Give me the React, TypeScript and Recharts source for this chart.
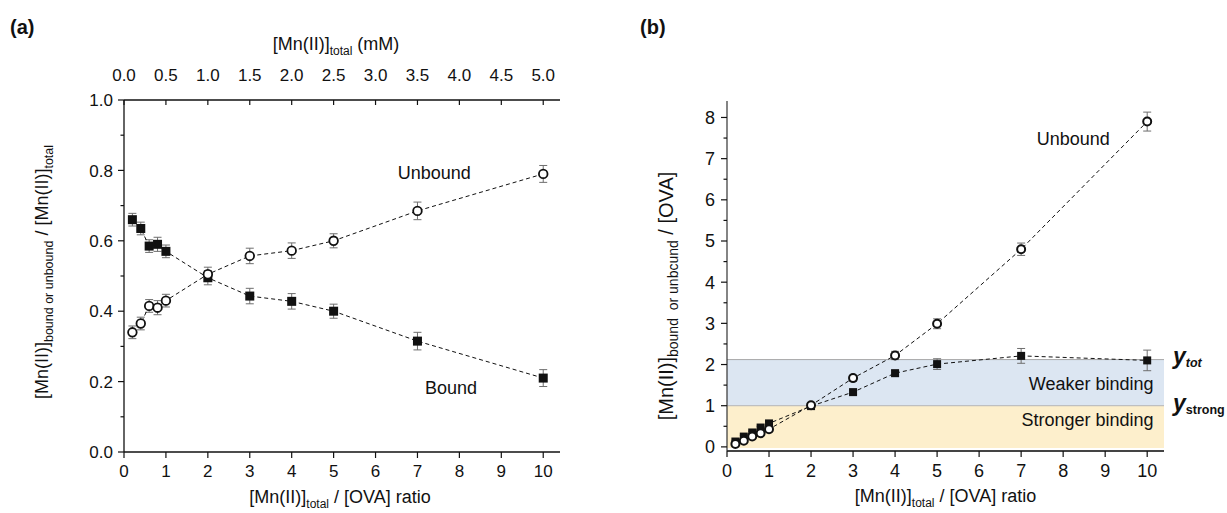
import { ComposedChart, Line, XAxis, YAxis, ErrorBar, ReferenceArea, ReferenceLine, ReferenceDot } from 'recharts';

// [Mn(II)]total / [OVA] ratio
const ratio = [0.2, 0.4, 0.6, 0.8, 1, 2, 3, 4, 5, 7, 10];

// panel (a): fraction of total Mn(II)
const boundFrac = [0.66, 0.635, 0.585, 0.59, 0.57, 0.495, 0.443, 0.428, 0.4, 0.315, 0.21];
const unboundFrac = [0.34, 0.365, 0.415, 0.41, 0.43, 0.505, 0.557, 0.572, 0.6, 0.685, 0.79];
const fracErr = [0.018, 0.018, 0.018, 0.02, 0.018, 0.02, 0.022, 0.022, 0.02, 0.025, 0.024];

// panel (b): per OVA
const boundPerOva = [0.13, 0.25, 0.35, 0.47, 0.57, 0.99, 1.33, 1.79, 2.01, 2.21, 2.1];
const unboundPerOva = [0.07, 0.15, 0.25, 0.33, 0.43, 1.01, 1.67, 2.22, 2.99, 4.8, 7.9];
const boundErr = [0.03, 0.03, 0.03, 0.03, 0.04, 0.05, 0.05, 0.07, 0.13, 0.18, 0.25];
const unboundErr = [0.03, 0.03, 0.03, 0.03, 0.04, 0.05, 0.07, 0.1, 0.12, 0.15, 0.23];

const yTot = 2.12;
const yStrong = 1;

const ratioTicks = [0, 1, 2, 3, 4, 5, 6, 7, 8, 9, 10];
// top axis: 1 mM per 2 ratio units
const mMLabels = ['0.0', '0.5', '1.0', '1.5', '2.0', '2.5', '3.0', '3.5', '4.0', '4.5', '5.0'];
const fracTicks = [0, 0.1, 0.2, 0.3, 0.4, 0.5, 0.6, 0.7, 0.8, 0.9, 1];
const perOvaTicks = [0, 0.5, 1, 1.5, 2, 2.5, 3, 3.5, 4, 4.5, 5, 5.5, 6, 6.5, 7, 7.5, 8];

const dataA = ratio.map((r, i) => ({ ratio: r, bound: boundFrac[i], unbound: unboundFrac[i], err: fracErr[i] }));
const dataB = ratio.map((r, i) => ({
  ratio: r,
  bound: boundPerOva[i],
  unbound: unboundPerOva[i],
  bErr: boundErr[i],
  uErr: unboundErr[i],
}));

const INK = '#111';
const ERR = '#6e6e6e';
const FONT = '"Liberation Sans", Arial, sans-serif';

const isMajor = (v: number, step: number) => Math.abs(v / step - Math.round(v / step)) < 1e-6;

const LeftTick = (p: any) => {
  const { x, y, payload, step, fmt, size, gap } = p;
  const major = isMajor(payload.value, step);
  return (
    <g>
      <line x1={x - (major ? 6 : 3.5)} x2={x} y1={y} y2={y} stroke={INK} strokeWidth={1.2} />
      {major && (
        <text x={x - gap} y={y} dy="0.36em" textAnchor="end" fontSize={size} fill={INK}>
          {fmt(payload.value)}
        </text>
      )}
    </g>
  );
};

const BottomTick = (p: any) => {
  const { x, y, payload, size, gap } = p;
  return (
    <g>
      <line x1={x} x2={x} y1={y} y2={y + 6} stroke={INK} strokeWidth={1.2} />
      <text x={x} y={y + gap} dy="0.8em" textAnchor="middle" fontSize={size} fill={INK}>
        {payload.value}
      </text>
    </g>
  );
};

// top ticks point into the plot
const TopTick = (p: any) => {
  const { x, y, payload, index } = p;
  return (
    <g>
      <line x1={x} x2={x} y1={y} y2={y + 5} stroke={INK} strokeWidth={1.2} />
      <text x={x} y={y - 19} textAnchor="middle" fontSize={17} fill={INK}>
        {mMLabels[index] ?? String(payload.value / 2)}
      </text>
    </g>
  );
};

const Square = (size: number) => (p: any) => {
  if (p.cx == null || p.cy == null) return <g key={p.key} />;
  return <rect key={p.key} x={p.cx - size / 2} y={p.cy - size / 2} width={size} height={size} fill={INK} />;
};

const Ring = (r: number, w: number) => (p: any) => {
  if (p.cx == null || p.cy == null) return <g key={p.key} />;
  return <circle key={p.key} cx={p.cx} cy={p.cy} r={r} fill="#fff" stroke={INK} strokeWidth={w} />;
};

const Mn = ({ sub, size, subSize }: { sub: string; size: number; subSize: number }) => (
  <>
    <tspan fontSize={size}>[Mn(II)]</tspan>
    <tspan fontSize={subSize} dy={size * 0.28}>{sub}</tspan>
    <tspan fontSize={size} dy={-size * 0.28}>{'\u00a0'}</tspan>
  </>
);

const ratioTitle = (dy: number, shift: number) => (p: any) => {
  const { x, y, width } = p.viewBox;
  return (
    <text x={x + width / 2 + shift} y={y + dy} textAnchor="middle" fill={INK}>
      <Mn sub="total" size={18} subSize={12} />
      <tspan fontSize={18}>/ [OVA] ratio</tspan>
    </text>
  );
};

const mMTitle = (p: any) => {
  const { x, y, width } = p.viewBox;
  return (
    <text x={x + width / 2 - 6} y={y} textAnchor="middle" fill={INK}>
      <Mn sub="total" size={18} subSize={12} />
      <tspan fontSize={18}>(mM)</tspan>
    </text>
  );
};

const fracTitle = (p: any) => {
  const { x, y, width, height } = p.viewBox;
  const cx = x + width - 82;
  const cy = y + height / 2 - 4;
  return (
    <text x={cx} y={cy} dy="0.35em" textAnchor="middle" fill={INK} transform={`rotate(-90 ${cx} ${cy})`}>
      <Mn sub="bound or unbound" size={18} subSize={12.5} />
      <tspan fontSize={18}>/ [Mn(II)]</tspan>
      <tspan fontSize={12.5} dy={5}>total</tspan>
    </text>
  );
};

const perOvaTitle = (p: any) => {
  const { x, y, width, height } = p.viewBox;
  const cx = x + width - 60;
  const cy = y + height / 2 + 20;
  return (
    <text x={cx} y={cy} dy="0.35em" textAnchor="middle" fill={INK} transform={`rotate(-90 ${cx} ${cy})`}>
      <Mn sub={'bound\u00a0\u00a0or unbcund'} size={20} subSize={14} />
      <tspan fontSize={20}>/ [OVA]</tspan>
    </text>
  );
};

const note = (text: string, anchor: 'start' | 'middle' | 'end', size = 18) => (p: any) => (
  <text x={p.viewBox.x} y={p.viewBox.y} dy="0.36em" textAnchor={anchor} fontSize={size} fill={INK}>
    {text}
  </text>
);

const sideLabel = (sub: string, italic: boolean) => (p: any) => {
  const { x, y, width } = p.viewBox;
  return (
    <text x={x + width + 9} y={y} dy="0.3em" fontWeight="bold" fill={INK}>
      <tspan fontStyle="italic" fontSize={23}>y</tspan>
      <tspan fontStyle={italic ? 'italic' : 'normal'} fontSize={12.5} dy={3}>{sub}</tspan>
    </text>
  );
};

const panelTag = (t: string) => (
  <div style={{ position: 'absolute', top: 16, fontSize: 20, fontWeight: 'bold', color: INK }}>{t}</div>
);

const FractionChart = () => (
  <ComposedChart width={600} height={513} data={dataA} margin={{ top: 50, right: 40, bottom: 21, left: 64 }}>
    <XAxis
      dataKey="ratio"
      type="number"
      domain={[0, 10.4]}
      ticks={ratioTicks}
      interval={0}
      tickSize={0}
      tickMargin={0}
      tickLine={false}
      height={40}
      axisLine={{ stroke: INK, strokeWidth: 1.3 }}
      tick={(p: any) => <BottomTick {...p} size={17} gap={11} />}
      label={ratioTitle(51, -2)}
    />
    <XAxis
      xAxisId="mM"
      dataKey="ratio"
      orientation="top"
      type="number"
      domain={[0, 10.4]}
      ticks={ratioTicks}
      interval={0}
      tickSize={0}
      tickMargin={0}
      tickLine={false}
      height={50}
      axisLine={{ stroke: INK, strokeWidth: 1.3 }}
      tick={(p: any) => <TopTick {...p} />}
      label={mMTitle}
    />
    <YAxis
      type="number"
      domain={[0, 1]}
      ticks={fracTicks}
      interval={0}
      tickSize={0}
      tickMargin={0}
      tickLine={false}
      width={60}
      axisLine={{ stroke: INK, strokeWidth: 1.3 }}
      tick={(p: any) => <LeftTick {...p} step={0.2} fmt={(v: number) => v.toFixed(1)} size={17} gap={11} />}
      label={fracTitle}
    />
    {/* invisible series so the top (mM) axis gets its scale */}
    <Line
      xAxisId="mM"
      dataKey="bound"
      stroke="none"
      dot={false}
      activeDot={false}
      legendType="none"
      isAnimationActive={false}
    />
    <Line
      dataKey="bound"
      stroke={INK}
      strokeWidth={1}
      strokeDasharray="4 3"
      dot={Square(9)}
      activeDot={false}
      isAnimationActive={false}
    >
      <ErrorBar dataKey="err" width={4} stroke={ERR} strokeWidth={1} direction="y" />
    </Line>
    <Line
      dataKey="unbound"
      stroke={INK}
      strokeWidth={1}
      strokeDasharray="4 3"
      dot={Ring(4.3, 1.8)}
      activeDot={false}
      isAnimationActive={false}
    >
      <ErrorBar dataKey="err" width={4} stroke={ERR} strokeWidth={1} direction="y" />
    </Line>
    <ReferenceDot x={7.4} y={0.793} r={0} fill="none" stroke="none" label={note('Unbound', 'middle')} />
    <ReferenceDot x={7.8} y={0.182} r={0} fill="none" stroke="none" label={note('Bound', 'middle')} />
  </ComposedChart>
);

const PerOvaChart = () => (
  <ComposedChart width={627} height={513} data={dataB} margin={{ top: 101, right: 63, bottom: 22, left: 67 }}>
    <XAxis
      dataKey="ratio"
      type="number"
      domain={[0, 10.4]}
      ticks={ratioTicks}
      interval={0}
      tickSize={0}
      tickMargin={0}
      tickLine={false}
      height={40}
      axisLine={{ stroke: '#444', strokeWidth: 2 }}
      tick={(p: any) => <BottomTick {...p} size={18} gap={12} />}
      label={ratioTitle(51, 0)}
    />
    <YAxis
      type="number"
      domain={[-0.1, 8.4]}
      allowDataOverflow
      ticks={perOvaTicks}
      interval={0}
      tickSize={0}
      tickMargin={0}
      tickLine={false}
      width={60}
      axisLine={{ stroke: '#333', strokeWidth: 1.2 }}
      tick={(p: any) => <LeftTick {...p} step={1} fmt={(v: number) => String(v)} size={18} gap={12} />}
      label={perOvaTitle}
    />
    <ReferenceArea y1={-0.03} y2={yStrong} fill="#fdefcc" fillOpacity={1} stroke="none" />
    <ReferenceArea y1={yStrong} y2={yTot} fill="#dce6f2" fillOpacity={1} stroke="none" />
    <ReferenceLine y={yTot} stroke="#a8a8a8" strokeWidth={1} label={sideLabel('tot', true)} />
    <ReferenceLine y={yStrong} stroke="#b4b4b4" strokeWidth={1} label={sideLabel('strong', false)} />
    <ReferenceDot x={10.15} y={1.54} r={0} fill="none" stroke="none" label={note('Weaker binding', 'end')} />
    <ReferenceDot x={10.15} y={0.66} r={0} fill="none" stroke="none" label={note('Stronger binding', 'end')} />
    <ReferenceDot x={8.24} y={7.48} r={0} fill="none" stroke="none" label={note('Unbound', 'middle')} />
    <Line
      dataKey="bound"
      stroke={INK}
      strokeWidth={1}
      strokeDasharray="4 3"
      dot={Square(8)}
      activeDot={false}
      isAnimationActive={false}
    >
      <ErrorBar dataKey="bErr" width={4} stroke={ERR} strokeWidth={1} direction="y" />
    </Line>
    <Line
      dataKey="unbound"
      stroke={INK}
      strokeWidth={1}
      strokeDasharray="4 3"
      dot={Ring(4, 2)}
      activeDot={false}
      isAnimationActive={false}
    >
      <ErrorBar dataKey="uErr" width={4} stroke={ERR} strokeWidth={1} direction="y" />
    </Line>
  </ComposedChart>
);

export default function App() {
  return (
    <div
      style={{
        position: 'absolute',
        left: 0,
        top: 0,
        width: 1227,
        height: 513,
        background: '#fff',
        fontFamily: FONT,
        overflow: 'hidden',
      }}
    >
      <div style={{ position: 'absolute', left: 10 }}>{panelTag('(a)')}</div>
      <div style={{ position: 'absolute', left: 640 }}>{panelTag('(b)')}</div>
      <div style={{ position: 'absolute', left: 0, top: 0 }}>
        <FractionChart />
      </div>
      <div style={{ position: 'absolute', left: 600, top: 0 }}>
        <PerOvaChart />
      </div>
    </div>
  );
}
